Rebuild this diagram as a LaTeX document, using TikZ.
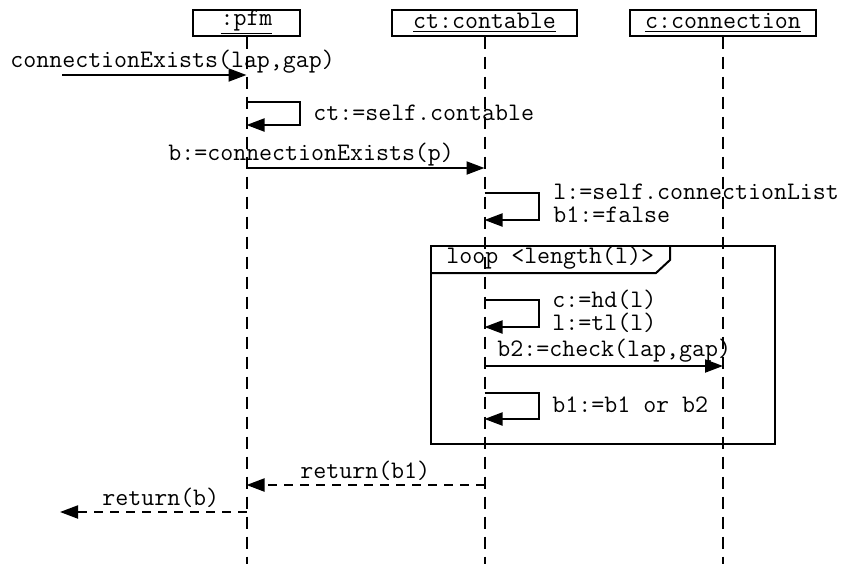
\documentclass[tikz,border=0pt]{standalone}
\usepackage{fontspec}
\usetikzlibrary{arrows.meta}

\begin{document}
\begin{tikzpicture}[x=0.5pt,y=-0.5pt,
    obj/.style={draw,line width=1pt,minimum height=13pt,inner sep=0pt,
      font=\ttfamily\fontsize{12.6}{13}\selectfont},
    txt/.style={inner sep=0pt,anchor=west,align=left,
      font=\ttfamily\fontsize{12.6}{11.5}\selectfont},
    life/.style={line width=1pt,dash pattern=on 6pt off 4pt},
    msg/.style={line width=1pt,-{Triangle[length=9pt,width=6.5pt]}},
    ret/.style={msg,dash pattern=on 4.5pt off 3.5pt}]
  \useasboundingbox (0,0) rectangle (847,564);
  % objects and their lifelines
  \node[obj,minimum width=53.5pt] (pfm) at (246.5,22.5) {\underline{:pfm}};
  \node[obj,minimum width=92.5pt] (ct) at (484.5,22.5) {\underline{ct:contable}};
  \node[obj,minimum width=93pt] (conn) at (723,22.5) {\underline{c:connection}};
  \coordinate (bottom) at (0,564);
  \foreach \o in {pfm,ct,conn}
    \draw[life] (\o.south) -- (\o.south |- bottom);
  % rows of the messages
  \coordinate (start) at (62,75);
  \coordinate (r1) at (0,102);  \coordinate (r2) at (0,125);
  \coordinate (r3) at (0,168);
  \coordinate (r4) at (0,193);  \coordinate (r5) at (0,220);
  \coordinate (r6) at (0,300);  \coordinate (r7) at (0,327);
  \coordinate (r8) at (0,366);
  \coordinate (r9) at (0,393);  \coordinate (r10) at (0,419);
  \coordinate (r11) at (0,485);
  \coordinate (out) at (60,512);
  % calls
  \node[txt] (m1) at (10,62) {connectionExists(lap,gap)};
  \draw[msg] (start) -- (start -| pfm);
  \draw[msg] (pfm |- r1) -- ++(53,0) |- (pfm |- r2);
  \node[txt] (m2) at (313,113) {ct:=self.contable};
  \node[txt] (m3) at (168,155) {b:=connectionExists(p)};
  \draw[msg] (pfm |- r3) -- (ct |- r3);
  \draw[msg] (ct |- r4) -- ++(54,0) |- (ct |- r5);
  \node[txt] (m4) at (553,203) {l:=self.connectionList\\b1:=false};
  % loop fragment
  \draw[line width=1pt] (431,246) rectangle (775,444);
  \draw[line width=1pt] (431,273) -- (656,273) -- (670,260) -- (670,246);
  \node[txt] (lp) at (446,258) {loop <length(l)>};
  \draw[msg] (ct |- r6) -- ++(54,0) |- (ct |- r7);
  \node[txt] (m5) at (552,311) {c:=hd(l)\\l:=tl(l)};
  \node[txt] (m6) at (497,351) {b2:=check(lap,gap)};
  \draw[msg] (ct |- r8) -- (conn |- r8);
  \draw[msg] (ct |- r9) -- ++(54,0) |- (ct |- r10);
  \node[txt] (m7) at (552,405) {b1:=b1 or b2};
  % returns
  \node[txt] (m8) at (300,471) {return(b1)};
  \draw[ret] (ct |- r11) -- (pfm |- r11);
  \node[txt] (m9) at (102,498) {return(b)};
  \draw[ret] (pfm |- out) -- (out);
\end{tikzpicture}
\end{document}
